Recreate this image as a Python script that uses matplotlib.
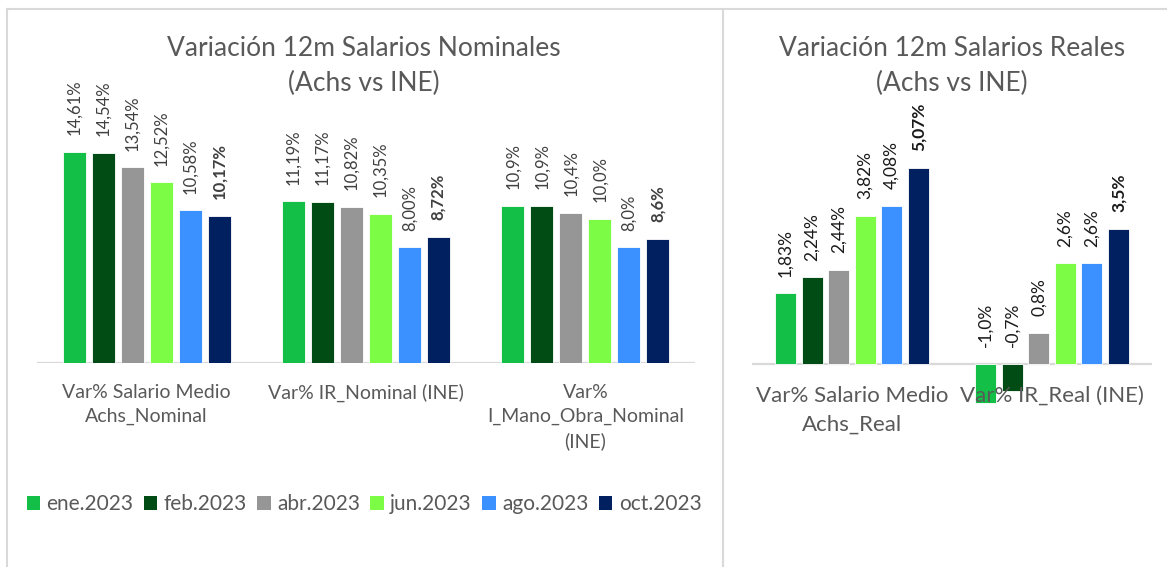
import matplotlib
matplotlib.use("Agg")
import matplotlib.pyplot as plt
from matplotlib.patches import Patch
from matplotlib.lines import Line2D
import numpy as np

plt.rcParams["font.family"] = ["Lato", "DejaVu Sans"]

months = ["ene.2023", "feb.2023", "abr.2023", "jun.2023", "ago.2023", "oct.2023"]
colors = ["#13BF47", "#014B15", "#969696", "#7DFC45", "#3A91FF", "#00205F"]

nom_cats = ["Var% Salario Medio\nAchs_Nominal", "Var% IR_Nominal (INE)",
            "Var%\nI_Mano_Obra_Nominal\n(INE)"]
nom_vals = [
    [14.61, 11.19, 10.9],
    [14.54, 11.17, 10.9],
    [13.54, 10.82, 10.4],
    [12.52, 10.35, 10.0],
    [10.58, 8.00, 8.0],
    [10.17, 8.72, 8.6],
]
nom_text = [
    ["14,61%", "11,19%", "10,9%"],
    ["14,54%", "11,17%", "10,9%"],
    ["13,54%", "10,82%", "10,4%"],
    ["12,52%", "10,35%", "10,0%"],
    ["10,58%", "8,00%", "8,0%"],
    ["10,17%", "8,72%", "8,6%"],
]

real_cats = ["Var% Salario Medio\nAchs_Real", "Var% IR_Real (INE)"]
real_vals = [
    [1.83, -1.0],
    [2.24, -0.7],
    [2.44, 0.8],
    [3.82, 2.6],
    [4.08, 2.6],
    [5.07, 3.5],
]
real_text = [
    ["1,83%", "-1,0%"],
    ["2,24%", "-0,7%"],
    ["2,44%", "0,8%"],
    ["3,82%", "2,6%"],
    ["4,08%", "2,6%"],
    ["5,07%", "3,5%"],
]

W, H = 1167, 567
fig = plt.figure(figsize=(W / 100, H / 100), dpi=100)


def px_axes(x0, x1, y_base, ppu, ymin, ymax):
    # place axes so that value 0 sits at pixel row y_base
    bottom = H - (y_base + (-ymin) * ppu)
    height = (ymax - ymin) * ppu
    return fig.add_axes([x0 / W, bottom / H, (x1 - x0) / W, height / H])


def draw(ax, cats, vals, texts, pitch, width, lab_color, lab_size, cat_size, cat_pad, ls):
    n = len(cats)
    x = np.arange(n)
    for i in range(len(vals)):
        pos = x + (i - 2.5) * pitch
        ax.bar(pos, vals[i], width, color=colors[i], edgecolor="#ffffff",
               linewidth=0.6, zorder=2)
        for j in range(n):
            ax.annotate(texts[i][j], (pos[j], max(vals[i][j], 0)),
                        xytext=(0, 12), textcoords="offset points",
                        rotation=90, ha="center", va="bottom",
                        fontsize=lab_size, color=lab_color,
                        fontweight="bold" if i == len(vals) - 1 else "normal")
    for j in range(n):
        ax.annotate(cats[j], (x[j], 0), xytext=(0, -cat_pad),
                    textcoords="offset points", ha="center", va="top",
                    fontsize=cat_size, color="#595959", linespacing=ls)
    ax.axhline(0, color="#D9D9D9", linewidth=1.6, zorder=1)
    ax.set_xlim(-0.5, n - 0.5)
    for s in ax.spines.values():
        s.set_visible(False)
    ax.set_xticks([])
    ax.set_yticks([])
    ax.patch.set_alpha(0)


ax1 = px_axes(37, 695, 363, 14.44, 0, 20)
ax1.set_ylim(0, 20)
draw(ax1, nom_cats, nom_vals, nom_text, 0.132, 0.105, "#404040", 12, 14, 15, 1.5)

ax2 = px_axes(752, 1152, 364, 38.7, -1.5, 6)
ax2.set_ylim(-1.5, 6)
draw(ax2, real_cats, real_vals, real_text, 0.133, 0.105, "#1a1a1a", 12.5, 16, 15.5, 1.55)

fig.text(364 / W, 1 - 66 / H, "Variación 12m Salarios Nominales\n(Achs vs INE)",
         ha="center", va="center", fontsize=19, color="#595959", linespacing=1.45)
fig.text(952 / W, 1 - 66 / H, "Variación 12m Salarios Reales\n(Achs vs INE)",
         ha="center", va="center", fontsize=19, color="#595959", linespacing=1.45)

handles = [Patch(facecolor=c, edgecolor="none") for c in colors]
fig.legend(handles, months, loc="center", bbox_to_anchor=(364 / W, 1 - 504 / H),
           ncol=6, frameon=False, fontsize=15, labelcolor="#595959",
           handlelength=0.65, handleheight=0.65, handletextpad=0.3, columnspacing=0.5)

# panel frames
frame = "#D9D9D9"
fig.add_artist(Line2D([7 / W, 1], [1 - 9 / H, 1 - 9 / H], color=frame, lw=1.5))
fig.add_artist(Line2D([7 / W, 7 / W], [0, 1 - 9 / H], color=frame, lw=1.5))
fig.add_artist(Line2D([723 / W, 723 / W], [0, 1 - 9 / H], color=frame, lw=1.5))

fig.savefig("out.png", dpi=100)
